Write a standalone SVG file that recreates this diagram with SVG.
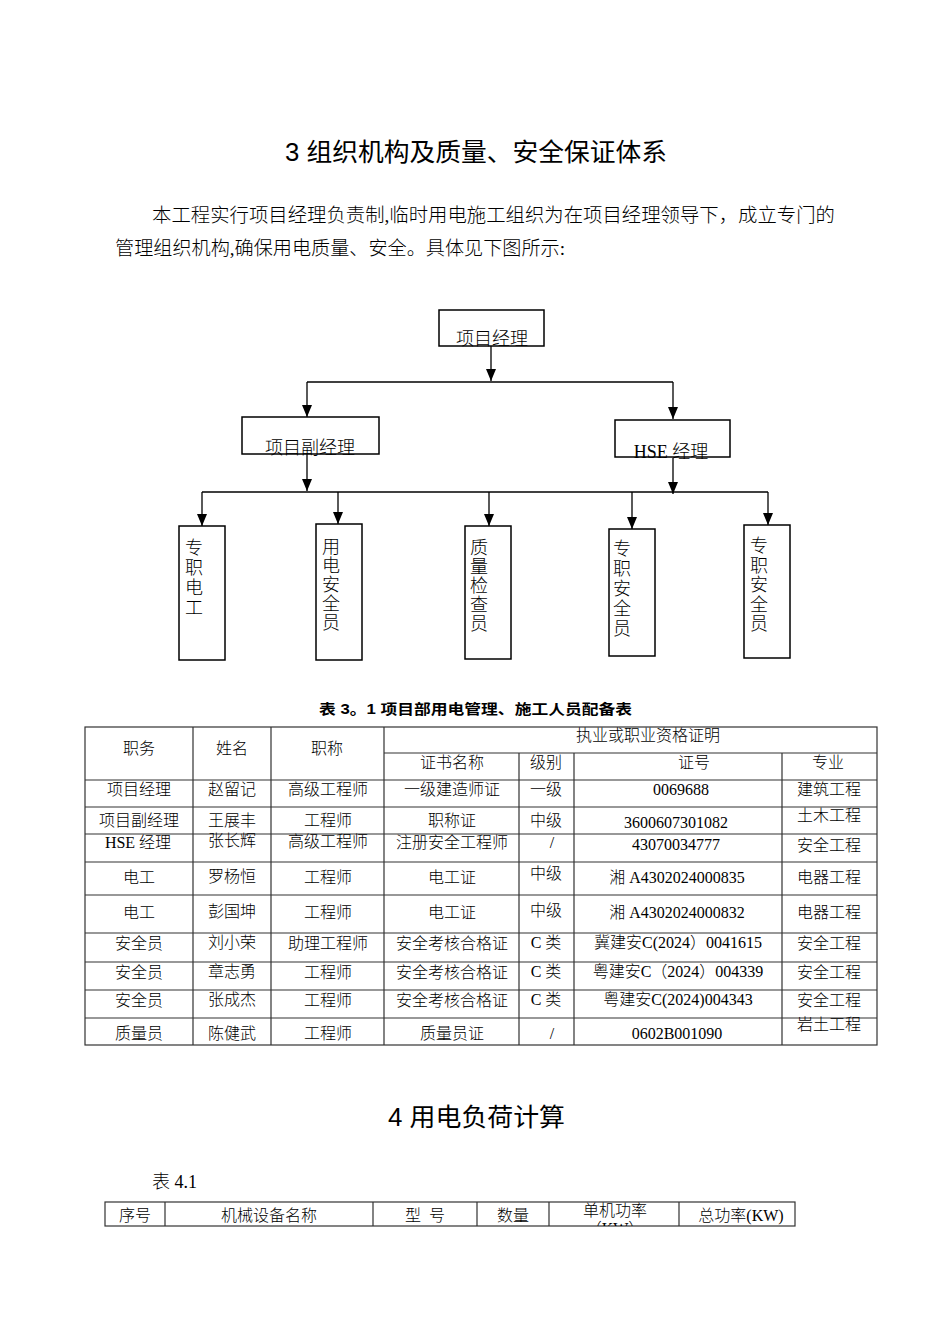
<svg xmlns="http://www.w3.org/2000/svg" width="950" height="1344" viewBox="0 0 950 1344">
<defs>
<style>
.t{font-family:"Liberation Serif","Noto Sans CJK SC",serif;fill:#000;font-weight:300}
.h{font-family:"Liberation Sans","Noto Sans CJK SC",sans-serif;fill:#000}
.c{text-anchor:middle}
.box{fill:#fff;stroke:#000;stroke-width:1.5}
.con{fill:none;stroke:#000;stroke-width:1.3}
.grid{stroke:#333;stroke-width:1.2;fill:none}
.org{font-size:18px}
.tb{font-size:16px}
</style>
<marker id="ah" viewBox="0 0 12 10" refX="12" refY="5" markerWidth="12" markerHeight="10" orient="auto" markerUnits="userSpaceOnUse">
<path d="M0,0 L12,5 L0,10 z" fill="#000"/>
</marker>
<clipPath id="kwclip"><rect x="549" y="1200" width="130" height="26"/></clipPath>
</defs>
<rect width="950" height="1344" fill="#fff"/>

<text class="h" x="285" y="161" font-size="25" textLength="382" lengthAdjust="spacingAndGlyphs">3 组织机构及质量、安全保证体系</text>
<text class="t" x="152" y="222" font-size="19.5" textLength="683" lengthAdjust="spacingAndGlyphs">本工程实行项目经理负责制,临时用电施工组织为在项目经理领导下，成立专门的</text>
<text class="t" x="115" y="255" font-size="19.5" textLength="450" lengthAdjust="spacingAndGlyphs">管理组织机构,确保用电质量、安全。具体见下图所示:</text>

<g id="connectors">
<path class="con" d="M491,346 V381" marker-end="url(#ah)"/>
<path class="con" d="M307,382 H673"/>
<path class="con" d="M307,382 V417" marker-end="url(#ah)"/>
<path class="con" d="M673,382 V419" marker-end="url(#ah)"/>
<path class="con" d="M307,454 V491" marker-end="url(#ah)"/>
<path class="con" d="M673,458 V494" marker-end="url(#ah)"/>
<path class="con" d="M202,492 H768"/>
<path class="con" d="M202,492 V526" marker-end="url(#ah)"/>
<path class="con" d="M338,492 V524" stroke-width="2" marker-end="url(#ah)"/>
<path class="con" d="M489,492 V526" marker-end="url(#ah)"/>
<path class="con" d="M632,492 V529" marker-end="url(#ah)"/>
<path class="con" d="M768,492 V525" marker-end="url(#ah)"/>
</g>

<g id="pm">
<rect class="box" x="439" y="310" width="105" height="36"/>
<text class="t org c" x="492" y="345">项目经理</text>
</g>
<g id="dpm">
<rect class="box" x="242" y="417" width="137" height="37"/>
<text class="t org c" x="310" y="454">项目副经理</text>
</g>
<g id="hse">
<rect class="box" x="615" y="420" width="115" height="37"/>
<text class="t org c" x="671" y="458">HSE 经理</text>
</g>
<g id="n1">
<rect class="box" x="179" y="526" width="46" height="134"/>
<text class="t org c" x="194" y="554">专<tspan x="194" dy="20">职</tspan><tspan x="194" dy="20">电</tspan><tspan x="194" dy="20">工</tspan></text>
</g>
<g id="n2">
<rect class="box" x="316" y="524" width="46" height="136"/>
<text class="t org c" x="331" y="553">用<tspan x="331" dy="19">电</tspan><tspan x="331" dy="19">安</tspan><tspan x="331" dy="19">全</tspan><tspan x="331" dy="19">员</tspan></text>
</g>
<g id="n3">
<rect class="box" x="465" y="526" width="46" height="133"/>
<text class="t org c" x="479" y="554">质<tspan x="479" dy="19">量</tspan><tspan x="479" dy="19">检</tspan><tspan x="479" dy="19">查</tspan><tspan x="479" dy="19">员</tspan></text>
</g>
<g id="n4">
<rect class="box" x="609" y="529" width="46" height="127"/>
<text class="t org c" x="622" y="555">专<tspan x="622" dy="20">职</tspan><tspan x="622" dy="20">安</tspan><tspan x="622" dy="20">全</tspan><tspan x="622" dy="20">员</tspan></text>
</g>
<g id="n5">
<rect class="box" x="744" y="525" width="46" height="133"/>
<text class="t org c" x="759" y="552">专<tspan x="759" dy="19.5">职</tspan><tspan x="759" dy="19.5">安</tspan><tspan x="759" dy="19.5">全</tspan><tspan x="759" dy="19.5">员</tspan></text>
</g>

<text class="h" x="319" y="714" font-size="14" font-weight="bold" textLength="313" lengthAdjust="spacingAndGlyphs">表 3。1 项目部用电管理、施工人员配备表</text>

<g id="table31">
<rect class="grid" x="85" y="727" width="792" height="318"/>
<path class="grid" d="M193,727 V1045 M271,727 V1045 M384,727 V1045 M519,753 V1045 M574,753 V1045 M782,753 V1045 M384,753 H877 M85,780 H877 M85,807 H877 M85,834 H877 M85,862 H877 M85,895 H877 M85,933 H877 M85,962 H877 M85,990 H877 M85,1018 H877"/>
<g class="t tb c">
<text x="139" y="754">职务</text>
<text x="232" y="754">姓名</text>
<text x="327" y="754">职称</text>
<text x="648" y="741">执业或职业资格证明</text>
<text x="452" y="768">证书名称</text>
<text x="546" y="768">级别</text>
<text x="694" y="768">证号</text>
<text x="828" y="768">专业</text>

<text x="139" y="795">项目经理</text><text x="232" y="795">赵留记</text><text x="328" y="795">高级工程师</text><text x="452" y="795">一级建造师证</text><text x="546" y="795">一级</text><text x="681" y="795">0069688</text><text x="829" y="795">建筑工程</text>

<text x="139" y="826">项目副经理</text><text x="232" y="826">王展丰</text><text x="328" y="826">工程师</text><text x="452" y="826">职称证</text><text x="546" y="826">中级</text><text x="676" y="828">3600607301082</text><text x="829" y="821">土木工程</text>

<text x="138" y="848">HSE 经理</text><text x="232" y="846">张长辉</text><text x="328" y="847">高级工程师</text><text x="452" y="848">注册安全工程师</text><text x="552" y="848">/</text><text x="676" y="850">43070034777</text><text x="829" y="851">安全工程</text>

<text x="139" y="883">电工</text><text x="232" y="882">罗杨恒</text><text x="328" y="883">工程师</text><text x="452" y="883">电工证</text><text x="546" y="879">中级</text><text x="677" y="883">湘 A4302024000835</text><text x="829" y="883">电器工程</text>

<text x="139" y="918">电工</text><text x="232" y="917">彭国坤</text><text x="328" y="918">工程师</text><text x="452" y="918">电工证</text><text x="546" y="916">中级</text><text x="677" y="918">湘 A4302024000832</text><text x="829" y="918">电器工程</text>

<text x="139" y="949">安全员</text><text x="232" y="948">刘小荣</text><text x="328" y="949">助理工程师</text><text x="452" y="949">安全考核合格证</text><text x="546" y="948">C 类</text><text x="678" y="948">冀建安C(2024）0041615</text><text x="829" y="949">安全工程</text>

<text x="139" y="978">安全员</text><text x="232" y="977">章志勇</text><text x="328" y="978">工程师</text><text x="452" y="978">安全考核合格证</text><text x="546" y="977">C 类</text><text x="678" y="977">粤建安C（2024）004339</text><text x="829" y="978">安全工程</text>

<text x="139" y="1006">安全员</text><text x="232" y="1005">张成杰</text><text x="328" y="1006">工程师</text><text x="452" y="1006">安全考核合格证</text><text x="546" y="1005">C 类</text><text x="678" y="1005">粤建安C(2024)004343</text><text x="829" y="1006">安全工程</text>

<text x="139" y="1039">质量员</text><text x="232" y="1039">陈健武</text><text x="328" y="1039">工程师</text><text x="452" y="1039">质量员证</text><text x="552" y="1039">/</text><text x="677" y="1039">0602B001090</text><text x="829" y="1030">岩土工程</text>
</g>
</g>

<text class="h" x="388" y="1126" font-size="25" textLength="177" lengthAdjust="spacingAndGlyphs">4 用电负荷计算</text>
<text class="t" x="152" y="1188" font-size="18">表 4.1</text>

<g id="table41">
<rect class="grid" x="105" y="1202" width="690" height="24"/>
<path class="grid" d="M165,1202 V1226 M373,1202 V1226 M477,1202 V1226 M549,1202 V1226 M679,1202 V1226"/>
<g class="t tb c">
<text x="135" y="1221">序号</text>
<text x="269" y="1221">机械设备名称</text>
<text x="425" y="1221" xml:space="preserve">型  号</text>
<text x="513" y="1221">数量</text>
<text x="615" y="1216">单机功率</text>
<text x="615" y="1234" clip-path="url(#kwclip)">（KW）</text>
<text x="741" y="1221">总功率(KW)</text>
</g>
</g>
</svg>
